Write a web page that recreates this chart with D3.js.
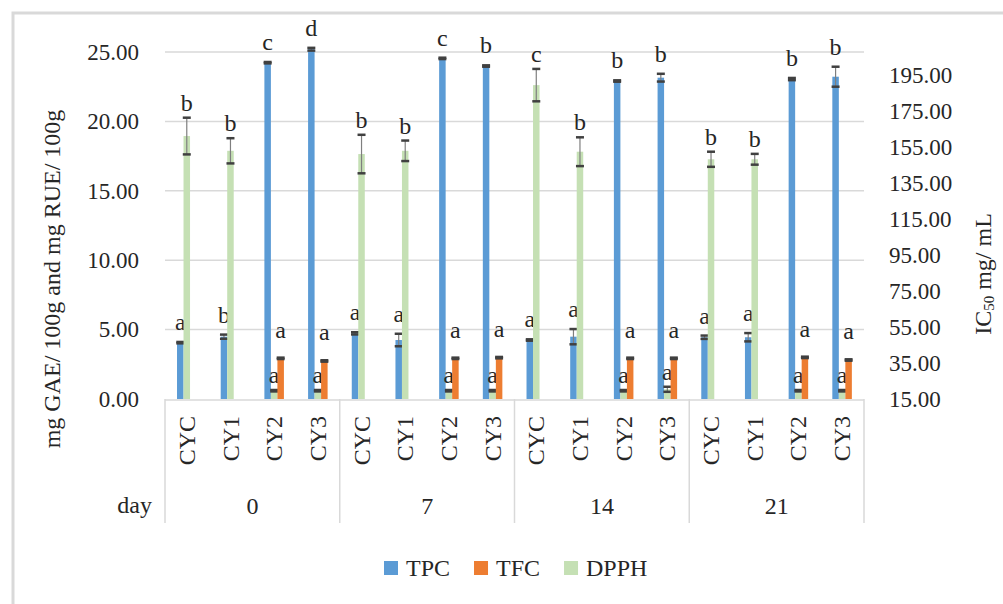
<!DOCTYPE html>
<html>
<head>
<meta charset="utf-8">
<script src="https://cdn.jsdelivr.net/npm/d3@7"></script>
<style>
  body { margin: 0; background: #fff; }
  text { font-family: "Liberation Serif", "Times New Roman", serif; fill: #262626; }
</style>
</head>
<body>
<svg id="chart" width="1003" height="604"></svg>
<script>
// data
var days = ["0", "7", "14", "21"]
var samples = ["CYC", "CY1", "CY2", "CY3"]
var seriesNames = ["TPC", "TFC", "DPPH"]

var tpc    = [4.06, 4.49, 24.23, 25.20,  4.73, 4.25, 24.54, 23.99,  4.25, 4.49, 22.91, 23.15,  4.45, 4.45, 23.05, 23.22]
var tpcErr = [0.05, 0.15, 0.05, 0.10,    0.08, 0.45, 0.05, 0.05,    0.05, 0.55, 0.05, 0.28,    0.12, 0.30, 0.08, 0.72]
var tpcLbl = ["a", "b", "c", "d",  "a", "a", "c", "b",  "a", "a", "b", "b",  "a", "a", "b", "b"]

var tfc    = [null, null, 2.93, 2.74,  null, null, 2.93, 2.98,  null, null, 2.93, 2.93,  null, null, 3.00, 2.81]
var tfcErr = [null, null, 0.05, 0.05,  null, null, 0.05, 0.05,  null, null, 0.05, 0.05,  null, null, 0.05, 0.05]
var tfcLbl = ["", "", "a", "a",  "", "", "a", "a",  "", "", "a", "a",  "", "", "a", "a"]

var dpph    = [161.1, 152.9, 19.6, 19.6,  151.1, 152.9, 19.6, 19.6,  189.4, 152.4, 19.6, 20.4,  148.2, 148.2, 19.6, 19.6]
var dpphErr = [10.2, 7.0, 0.4, 0.4,       10.7, 5.7, 0.4, 0.4,       9.0, 8.0, 0.4, 1.4,         4.2, 3.0, 0.4, 0.4]
var dpphLbl = ["b", "b", "a", "a",  "b", "b", "a", "a",  "c", "b", "a", "a",  "b", "b", "a", "a"]

var leftTicks = [0, 5, 10, 15, 20, 25]
var rightTicks = [15, 35, 55, 75, 95, 115, 135, 155, 175, 195]

var colors = { TPC: "#5b9bd5", TFC: "#ed7d31", DPPH: "#c5e0b4" }

var svg = d3.select("#chart")
var plot = { left: 165, right: 864, top: 52, bottom: 399 }

// outer frame
svg.append("rect")
    .attr("x", 13).attr("y", 13)
    .attr("width", 1100).attr("height", 700)
    .style("fill", "none").style("stroke", "#d9d9d9").style("stroke-width", 3)

var cats = []
days.forEach(d => samples.forEach(s => cats.push(d + "|" + s)))

var x = d3.scaleBand().domain(cats).range([plot.left, plot.right])
var bw = x.bandwidth()
var xs = d3.scaleBand().domain(["TPC", "DPPH", "TFC"]).range([bw * 0.275, bw * 0.722])
var y = d3.scaleLinear().domain([0, 25]).range([plot.bottom, plot.top])
var y2 = d3.scaleLinear().domain([15, 207.8]).range([plot.bottom, plot.top])

// gridlines
svg.append("g")
    .selectAll("line")
    .data(leftTicks.slice(1))
    .enter().append("line")
    .attr("x1", plot.left).attr("x2", plot.right)
    .attr("y1", d => y(d)).attr("y2", d => y(d))
    .style("stroke", "#d9d9d9").style("stroke-width", 1.5)

// left axis
var leftAxis = svg.append("g")
    .attr("transform", "translate(139,0)")
    .call(d3.axisLeft(y).tickValues(leftTicks).tickSize(0).tickPadding(0).tickFormat(d3.format(".2f")))
leftAxis.select(".domain").remove()
leftAxis.selectAll("text").style("font-size", "23px").style("font-family", null)

// right axis
var rightAxis = svg.append("g")
    .attr("transform", "translate(889,0)")
    .call(d3.axisRight(y2).tickValues(rightTicks).tickSize(0).tickPadding(0).tickFormat(d3.format(".2f")))
rightAxis.select(".domain").remove()
rightAxis.selectAll("text").style("font-size", "23px").style("font-family", null)

// axis titles
svg.append("text")
    .attr("transform", "translate(52,279) rotate(-90)")
    .attr("text-anchor", "middle")
    .attr("dominant-baseline", "central")
    .style("font-size", "24px")
    .text("mg GAE/ 100g and mg RUE/ 100g")

var rt = svg.append("text")
    .attr("transform", "translate(983,274) rotate(-90)")
    .attr("text-anchor", "middle")
    .attr("dominant-baseline", "central")
    .style("font-size", "24px")
rt.append("tspan").text("IC")
rt.append("tspan").text("50").style("font-size", "15px").attr("dy", 6)
rt.append("tspan").text(" mg/ mL").attr("dy", -6)

// x axis line and day separators
svg.append("line")
    .attr("x1", plot.left).attr("x2", plot.right)
    .attr("y1", plot.bottom + 1).attr("y2", plot.bottom + 1)
    .style("stroke", "#d9d9d9").style("stroke-width", 1.5)

var groupW = bw * samples.length
svg.append("g").selectAll("line")
    .data(d3.range(days.length + 1))
    .enter().append("line")
    .attr("x1", i => plot.left + i * groupW).attr("x2", i => plot.left + i * groupW)
    .attr("y1", plot.bottom).attr("y2", 523)
    .style("stroke", "#d9d9d9").style("stroke-width", 1.5)

// sample labels (rotated)
svg.append("g").selectAll("text")
    .data(cats)
    .enter().append("text")
    .attr("transform", d => "translate(" + (x(d) + bw / 2) + ",416) rotate(-90)")
    .attr("text-anchor", "end")
    .attr("dominant-baseline", "central")
    .style("font-size", "24px")
    .text(d => d.split("|")[1])

// day labels
svg.append("text")
    .attr("x", 152).attr("y", 513)
    .attr("text-anchor", "end")
    .style("font-size", "24px")
    .text("day")

svg.append("g").selectAll("text")
    .data(days)
    .enter().append("text")
    .attr("x", (d, i) => plot.left + (i + 0.5) * groupW)
    .attr("y", 514)
    .attr("text-anchor", "middle")
    .style("font-size", "24px")
    .text(d => d)

// bars
function drawSeries(name, vals, errs, lbls, scale, gap) {
    var rows = cats.map((c, i) => ({ c: c, v: vals[i], e: errs[i], l: lbls[i] })).filter(r => r.v != null)
    var g = svg.append("g")
    var cx = r => x(r.c) + xs(name) + xs.bandwidth() / 2

    g.selectAll("rect")
        .data(rows)
        .enter().append("rect")
        .attr("x", r => x(r.c) + xs(name))
        .attr("width", xs.bandwidth())
        .attr("y", r => scale(r.v))
        .attr("height", r => scale.range()[0] - scale(r.v))
        .style("fill", colors[name])

    // error bars
    g.selectAll("line.stem")
        .data(rows)
        .enter().append("line")
        .attr("x1", cx).attr("x2", cx)
        .attr("y1", r => scale(r.v + r.e)).attr("y2", r => scale(r.v - r.e))
        .style("stroke", "#7f7f7f").style("stroke-width", 1.2)

    ;[1, -1].forEach(sgn => {
        g.selectAll("line.cap" + sgn)
            .data(rows)
            .enter().append("line")
            .attr("x1", r => cx(r) - 4).attr("x2", r => cx(r) + 4)
            .attr("y1", r => scale(r.v + sgn * r.e)).attr("y2", r => scale(r.v + sgn * r.e))
            .style("stroke", "#404040").style("stroke-width", 2.5)
    })

    // significance letters
    g.selectAll("text")
        .data(rows)
        .enter().append("text")
        .attr("x", cx)
        .attr("y", r => scale(r.v + r.e) - gap)
        .attr("text-anchor", "middle")
        .style("font-size", "24px")
        .text(r => r.l)
}

drawSeries("TPC", tpc, tpcErr, tpcLbl, y, 12)
drawSeries("DPPH", dpph, dpphErr, dpphLbl, y2, 7)
drawSeries("TFC", tfc, tfcErr, tfcLbl, y, 20)

// legend
var lx = 384
seriesNames.forEach(name => {
    svg.append("rect")
        .attr("x", lx).attr("y", 561)
        .attr("width", 14).attr("height", 14)
        .style("fill", colors[name])
    var t = svg.append("text")
        .attr("x", lx + 22).attr("y", 576)
        .style("font-size", "24px")
        .text(name)
    lx += 22 + t.node().getComputedTextLength() + 24
})
</script>
</body>
</html>
